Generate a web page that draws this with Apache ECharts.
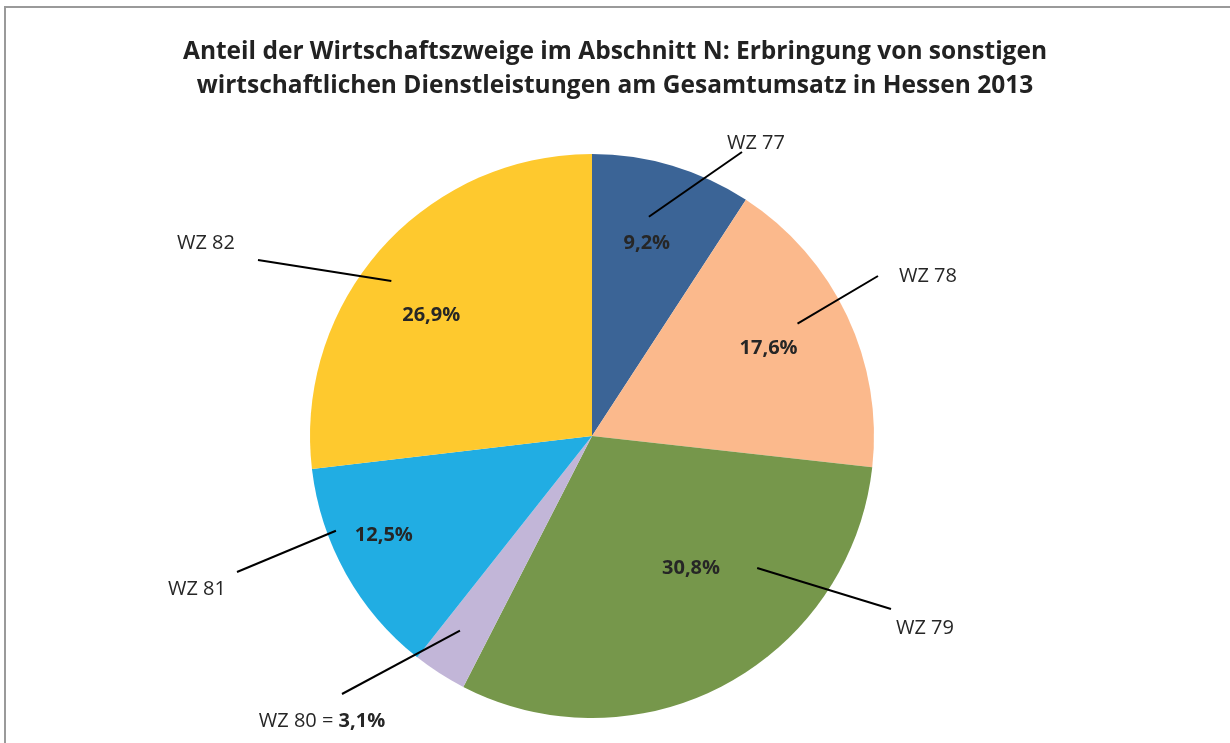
<!DOCTYPE html>
<html>
<head>
<meta charset="utf-8">
<script src="https://cdn.jsdelivr.net/npm/echarts@6/dist/echarts.min.js"></script>
<style>
  html, body { margin: 0; padding: 0; background: #fff; }
  #chart { width: 1230px; height: 743px; }
</style>
</head>
<body>
<div id="chart"></div>
<script>
const categories = ['WZ 77', 'WZ 78', 'WZ 79', 'WZ 80', 'WZ 81', 'WZ 82']
const shares = [9.2, 17.6, 30.8, 3.1, 12.5, 26.9]

const colors = ['#3b6496', '#fbb98c', '#76974b', '#c2b6d8', '#21ade3', '#fec92e']
// label anchors as placed in the original (text centre / end of leader line)
const nameSpots = [[756, 143], [928, 276], [925, 628], [322, 721], [197, 589], [206, 243]]
const lineEnds = [[742, 152], [878, 276], [891, 609], [342, 694], [237, 572], [258, 260]]
// shifts of the leader line start away from the default anchor inside the slice
const lineNudge = [[-10, 6], [-7, -12], [54, -75], [-5, -3], [-51, -20], [-25, 1]]
// small shifts for the bold percentages
const pctNudge = [[-3, 2], [-7, -1], [3, -47], [0, 0], [-31, 0], [-9, 14]]

const font = '"Open Sans", "Noto Sans", sans-serif'
const center = [592, 436]
const fmt = v => v.toFixed(1).replace('.', ',') + '%'

const pieData = categories.map((name, i) => ({ name, value: shares[i] }))

const chart = echarts.init(document.getElementById('chart'), null, { renderer: 'canvas' })
chart.setOption({
  animation: false,
  color: colors,
  title: {
    text: 'Anteil der Wirtschaftszweige im Abschnitt N: Erbringung von sonstigen\nwirtschaftlichen Dienstleistungen am Gesamtumsatz in Hessen 2013',
    left: 'center',
    top: 30,
    textStyle: {
      fontFamily: font,
      fontSize: 24.5,
      fontWeight: 'bold',
      lineHeight: 34,
      color: '#222'
    }
  },
  graphic: [{
    type: 'rect',
    shape: { x: 5, y: 7, width: 1400, height: 900 },
    style: { fill: 'none', stroke: '#9a9a9a', lineWidth: 2 },
    silent: true
  }],
  series: [
    {
      // the pie itself
      type: 'pie',
      center: center,
      radius: 282,
      startAngle: 90,
      clockwise: true,
      silent: true,
      label: { show: false },
      labelLine: { show: false },
      data: pieData
    },
    {
      // bold percentages inside the slices
      type: 'pie',
      z: 3,
      center: center,
      radius: [0, 400],
      startAngle: 90,
      silent: true,
      itemStyle: { color: 'rgba(0,0,0,0)' },
      label: {
        position: 'inside',
        fontFamily: font,
        fontSize: 20,
        fontWeight: 'bold',
        color: '#262626',
        formatter: p => fmt(p.value)
      },
      labelLine: { show: false },
      labelLayout: params => {
        const d = pctNudge[params.dataIndex]
        const r = params.labelRect
        return {
          x: r.x + r.width / 2 + d[0],
          y: r.y + r.height / 2 + d[1],
          align: 'center',
          verticalAlign: 'middle'
        }
      },
      data: pieData.map(d => ({ ...d, label: { show: d.value >= 5 } }))
    },
    {
      // category names with leader lines
      type: 'pie',
      z: 4,
      center: center,
      radius: 235,
      startAngle: 90,
      silent: true,
      avoidLabelOverlap: false,
      itemStyle: { color: 'rgba(0,0,0,0)' },
      label: {
        position: 'outside',
        fontFamily: font,
        fontSize: 20,
        color: '#262626',
        formatter: p => p.value < 5
          ? p.name + ' = {b|' + fmt(p.value) + '}'
          : p.name,
        rich: {
          b: { fontFamily: font, fontSize: 20, fontWeight: 'bold', color: '#262626' }
        }
      },
      labelLine: {
        show: true,
        length: 10,
        length2: 10,
        lineStyle: { color: '#000', width: 2 }
      },
      labelLayout: params => {
        const i = params.dataIndex
        const p0 = params.labelLinePoints[0]
        const start = [p0[0] + lineNudge[i][0], p0[1] + lineNudge[i][1]]
        return {
          x: nameSpots[i][0],
          y: nameSpots[i][1],
          align: 'center',
          verticalAlign: 'middle',
          labelLinePoints: [start, lineEnds[i]]
        }
      },
      data: pieData
    }
  ]
})
</script>
</body>
</html>
